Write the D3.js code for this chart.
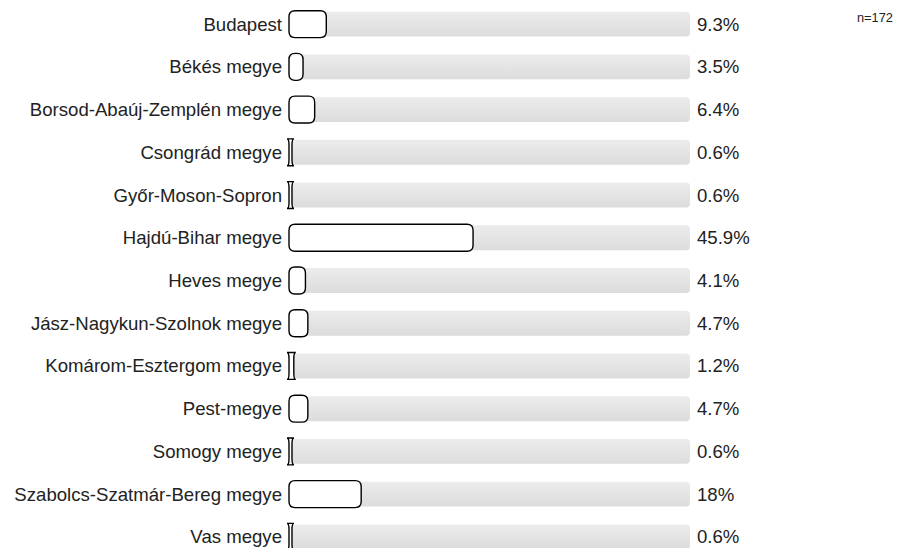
<!DOCTYPE html>
<html>
<head>
<meta charset="utf-8">
<script src="https://cdn.jsdelivr.net/npm/d3@7"></script>
<style>
  body { margin: 0; background: #fff; }
  text { font-family: "Liberation Sans", Arial, sans-serif; }
</style>
</head>
<body>
<div class="canvas"></div>
<script>
const categories = [
  "Budapest", "Békés megye", "Borsod-Abaúj-Zemplén megye", "Csongrád megye",
  "Győr-Moson-Sopron", "Hajdú-Bihar megye", "Heves megye",
  "Jász-Nagykun-Szolnok megye", "Komárom-Esztergom megye", "Pest-megye",
  "Somogy megye", "Szabolcs-Szatmár-Bereg megye", "Vas megye"
];
const values = [9.3, 3.5, 6.4, 0.6, 0.6, 45.9, 4.1, 4.7, 1.2, 4.7, 0.6, 18, 0.6];
const valueLabels = ["9.3%", "3.5%", "6.4%", "0.6%", "0.6%", "45.9%", "4.1%", "4.7%", "1.2%", "4.7%", "0.6%", "18%", "0.6%"];
const total = "n=172";

const width = 921, height = 548;

const svg = d3.select(".canvas")
  .append("svg")
  .attr("width", width)
  .attr("height", height);

const defs = svg.append("defs");
const grad = defs.append("linearGradient")
  .attr("id", "track")
  .attr("x1", 0).attr("y1", 0).attr("x2", 0).attr("y2", 1);
grad.append("stop").attr("offset", "0%").attr("stop-color", "#ececec");
grad.append("stop").attr("offset", "100%").attr("stop-color", "#dcdcdc");

const x = d3.scaleLinear().domain([0, 100]).range([289, 690]);
const y = d3.scaleBand().domain(categories).range([3, 558]).paddingInner(0.37).paddingOuter(0.18);

const rows = svg.append("g")
  .selectAll("g")
  .data(categories)
  .join("g")
  .attr("transform", d => `translate(0,${y(d)})`);

const bh = y.bandwidth();

// gray track
rows.append("rect")
  .attr("x", x(0))
  .attr("y", 1)
  .attr("width", x(100) - x(0))
  .attr("height", bh - 2)
  .attr("rx", 4)
  .attr("fill", "url(#track)");

// bar outline: rounded rect, corner radius 6 even when the bar is thinner
// (narrow bars get the flared "I" caps the original shows)
function barPath(w) {
  const p = d3.path();
  const x0 = x(0), x1 = x0 + w, r = 6;
  if (w >= 2 * r) {
    p.moveTo(x0 + r, 0);
    p.lineTo(x1 - r, 0);
    p.quadraticCurveTo(x1, 0, x1, r);
    p.lineTo(x1, bh - r);
    p.quadraticCurveTo(x1, bh, x1 - r, bh);
    p.lineTo(x0 + r, bh);
    p.quadraticCurveTo(x0, bh, x0, bh - r);
    p.lineTo(x0, r);
    p.quadraticCurveTo(x0, 0, x0 + r, 0);
  } else {
    const c = 2;
    p.moveTo(x0 - c, 0);
    p.lineTo(x1 + c, 0);
    p.quadraticCurveTo(x1, 0, x1, r);
    p.lineTo(x1, bh - r);
    p.quadraticCurveTo(x1, bh, x1 + c, bh);
    p.lineTo(x0 - c, bh);
    p.quadraticCurveTo(x0, bh, x0, bh - r);
    p.lineTo(x0, r);
    p.quadraticCurveTo(x0, 0, x0 - c, 0);
  }
  p.closePath();
  return p.toString();
}

rows.append("path")
  .attr("d", (d, i) => barPath(Math.max(x(values[i]) - x(0), 3)))
  .attr("fill", "#fff")
  .attr("stroke", "#000")
  .attr("stroke-width", 1.4);

// category labels
rows.append("text")
  .attr("x", 282)
  .attr("y", bh / 2)
  .attr("dy", "0.35em")
  .attr("text-anchor", "end")
  .attr("font-size", 18.6)
  .attr("fill", "#222")
  .text(d => d);

// value labels
rows.append("text")
  .attr("x", 697)
  .attr("y", bh / 2)
  .attr("dy", "0.35em")
  .attr("font-size", 18.6)
  .attr("fill", "#222")
  .text((d, i) => valueLabels[i]);

svg.append("text")
  .attr("x", 857)
  .attr("y", 22)
  .attr("font-size", 12.8)
  .attr("fill", "#222")
  .text(total);
</script>
</body>
</html>
